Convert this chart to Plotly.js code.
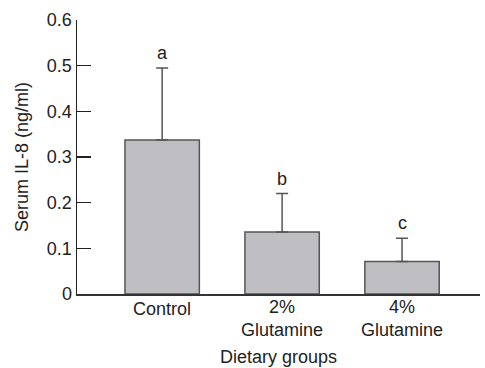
<!DOCTYPE html>
<html>
<head>
<meta charset="utf-8">
<script src="https://cdn.plot.ly/plotly-3.0.1.min.js"></script>
<style>html,body{margin:0;padding:0;background:#fff;}#chart{width:485px;height:368px;}</style>
</head>
<body>
<div id="chart"></div>
<script>
const categories = ["Control", "2%<br>Glutamine", "4%<br>Glutamine"];
const means = [0.337, 0.136, 0.071];
const sdErrors = [0.158, 0.084, 0.051];
const letters = ["a", "b", "c"];
const yTickVals = [0, 0.1, 0.2, 0.3, 0.4, 0.5, 0.6];
const yTickText = ["0", "0.1", "0.2", "0.3", "0.4", "0.5", "0.6"];

const font = {family: "Liberation Sans, Arial, sans-serif", size: 18, color: "#222"};

const trace = {
  type: "bar",
  x: [0, 1, 2],
  y: means,
  width: 0.62,
  marker: {color: "#bfbfc3", line: {color: "#555", width: 1.5}},
  error_y: {type: "data", array: sdErrors, arrayminus: sdErrors.map(() => 0), symmetric: false, visible: true, color: "#555", thickness: 1.5, width: 6},
  hoverinfo: "none"
};

const annotations = [];
letters.forEach((t, i) => annotations.push({
  x: i, y: means[i] + sdErrors[i], xref: "x", yref: "y",
  text: t, showarrow: false, yanchor: "bottom", yshift: 3,
  font: font
}));
categories.forEach((t, i) => {
  const twoLine = t.indexOf("<br>") >= 0;
  annotations.push({
    x: i, y: 0, xref: "x", yref: "paper", text: t, showarrow: false,
    yanchor: twoLine ? "top" : "middle", yshift: twoLine ? -1 : -15, font: font
  });
});

const layout = {
  width: 485, height: 368,
  margin: {l: 77, r: 5, t: 20, b: 74},
  paper_bgcolor: "#fff", plot_bgcolor: "#fff",
  font: font,
  showlegend: false,
  bargap: 0,
  xaxis: {
    range: [-0.71, 2.65],
    tickvals: [0, 1, 2], showticklabels: false,
    showgrid: false, zeroline: false,
    showline: true, linecolor: "#333", linewidth: 1.5,
    ticks: "",
    title: {text: "Dietary groups", font: font, standoff: 56}
  },
  yaxis: {
    range: [0, 0.6],
    tickvals: yTickVals, ticktext: yTickText,
    showgrid: false, zeroline: false,
    showline: true, linecolor: "#222", linewidth: 1.5,
    ticks: "inside", ticklen: 14, tickwidth: 1.5, tickcolor: "#222",
    tickfont: font,
    title: {text: "Serum IL-8 (ng/ml)", font: font, standoff: 13}
  },
  annotations: annotations
};

Plotly.newPlot("chart", [trace], layout, {displayModeBar: false, staticPlot: true});
</script>
</body>
</html>
